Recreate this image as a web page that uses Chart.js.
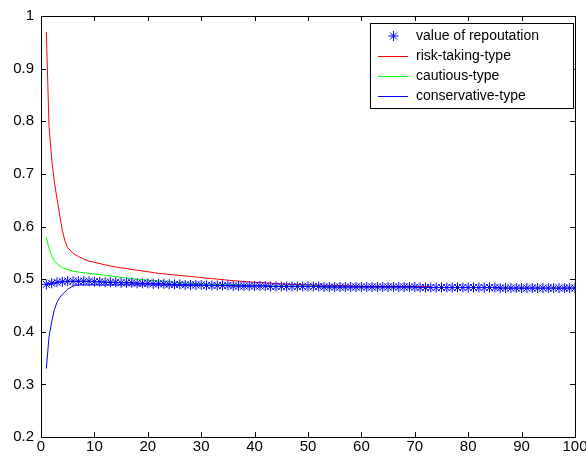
<!DOCTYPE html>
<html>
<head>
<meta charset="utf-8">
<script src="https://cdn.jsdelivr.net/npm/chart.js@4/dist/chart.umd.min.js"></script>
<style>
  html, body { margin: 0; padding: 0; background: #fff; }
  #wrap { width: 586px; height: 456px; }
</style>
</head>
<body>
<div id="wrap"><canvas id="c" width="586" height="456"></canvas></div>
<script>
// value of repoutation, one star per iteration 1..100
var reputation = [
    0.490, 0.492, 0.494, 0.495, 0.496, 0.496, 0.496, 0.496, 0.496, 0.495,
    0.495, 0.494, 0.494, 0.494, 0.493, 0.493, 0.493, 0.492, 0.492, 0.492,
    0.491, 0.491, 0.491, 0.490, 0.490, 0.490, 0.489, 0.489, 0.489, 0.489,
    0.488, 0.488, 0.488, 0.488, 0.488, 0.487, 0.487, 0.487, 0.487, 0.487,
    0.487, 0.487, 0.486, 0.486, 0.486, 0.486, 0.486, 0.486, 0.486, 0.486,
    0.486, 0.486, 0.485, 0.485, 0.485, 0.485, 0.485, 0.485, 0.485, 0.485,
    0.485, 0.485, 0.485, 0.485, 0.485, 0.485, 0.485, 0.485, 0.485, 0.485,
    0.484, 0.484, 0.484, 0.484, 0.484, 0.484, 0.484, 0.484, 0.484, 0.484,
    0.484, 0.484, 0.484, 0.484, 0.484, 0.483, 0.483, 0.483, 0.483, 0.483,
    0.483, 0.483, 0.483, 0.483, 0.483, 0.483, 0.483, 0.483, 0.483, 0.483
];

var riskX = [1, 1.5, 2, 2.5, 3, 3.5, 4, 4.5, 5, 6, 7, 8, 9, 10, 12, 14, 16, 18, 20, 22, 25, 28, 30, 33, 36, 40, 45, 50, 55, 60, 65, 70, 73];
var riskY = [0.970, 0.790, 0.728, 0.685, 0.652, 0.622, 0.592, 0.572, 0.560, 0.549, 0.543, 0.538, 0.534, 0.532, 0.527, 0.523, 0.520, 0.517, 0.514, 0.511, 0.508, 0.505, 0.503, 0.500, 0.497, 0.494, 0.491, 0.489, 0.488, 0.486, 0.486, 0.486, 0.486];

var cautiousX = [1, 1.5, 2, 2.5, 3, 4, 5, 6, 8, 10, 13, 16, 20, 24, 28, 32, 36, 40, 45, 50, 55];
var cautiousY = [0.579, 0.558, 0.545, 0.535, 0.529, 0.522, 0.518, 0.515, 0.512, 0.510, 0.506, 0.502, 0.498, 0.495, 0.492, 0.490, 0.489, 0.488, 0.487, 0.487, 0.486];

var conservX = [1, 1.5, 2, 2.5, 3, 3.5, 4, 5, 6, 7, 10, 20, 30, 40];
var conservY = [0.330, 0.390, 0.419, 0.442, 0.456, 0.465, 0.471, 0.481, 0.487, 0.489, 0.489, 0.489, 0.488, 0.487];

var legendLabels = ["value of repoutation", "risk-taking-type", "cautious-type", "conservative-type"];
var seriesColors = ["#0000ff", "#ff0000", "#00ff00", "#0000ff"];

function pairs(xs, ys) {
    return xs.map(function (x, i) { return { x: x, y: ys[i] }; });
}

// matlab style: box round the axes, ticks pointing inwards, legend inside
var matlabBox = {
    id: "matlabBox",
    afterDraw: function (chart) {
        var ctx = chart.ctx;
        var a = chart.chartArea;
        var xs = chart.scales.x, ys = chart.scales.y;
        ctx.save();
        ctx.setLineDash([]);
        ctx.strokeStyle = "#000";
        ctx.lineWidth = 1;
        ctx.strokeRect(a.left + 0.5, a.top + 0.5, a.right - a.left, a.bottom - a.top);
        ctx.beginPath();
        xs.ticks.forEach(function (t) {
            var px = Math.round(xs.getPixelForValue(t.value)) + 0.5;
            ctx.moveTo(px, a.bottom); ctx.lineTo(px, a.bottom - 5);
            ctx.moveTo(px, a.top); ctx.lineTo(px, a.top + 5);
        });
        ys.ticks.forEach(function (t) {
            var py = Math.round(ys.getPixelForValue(t.value)) + 0.5;
            ctx.moveTo(a.left, py); ctx.lineTo(a.left + 5, py);
            ctx.moveTo(a.right, py); ctx.lineTo(a.right - 5, py);
        });
        ctx.stroke();

        // legend
        var bx = 370.5, by = 23.5, bw = 203, bh = 85;
        ctx.fillStyle = "#fff";
        ctx.fillRect(bx, by, bw, bh);
        ctx.strokeStyle = "#000";
        ctx.strokeRect(bx, by, bw, bh);
        ctx.font = "14px 'Liberation Sans', Arial, sans-serif";
        ctx.textBaseline = "middle";
        legendLabels.forEach(function (label, i) {
            var ry = 36 + i * 20;
            if (i === 0) {
                var cx = 393.5, r = 5;
                ctx.strokeStyle = seriesColors[0];
                ctx.beginPath();
                ctx.moveTo(cx, ry - r); ctx.lineTo(cx, ry + r);
                ctx.moveTo(cx - r, ry); ctx.lineTo(cx + r, ry);
                ctx.moveTo(cx - 3.5, ry - 3.5); ctx.lineTo(cx + 3.5, ry + 3.5);
                ctx.moveTo(cx - 3.5, ry + 3.5); ctx.lineTo(cx + 3.5, ry - 3.5);
                ctx.stroke();
            } else {
                ctx.fillStyle = seriesColors[i];
                ctx.fillRect(378, ry, 30, 1);
            }
            ctx.fillStyle = "#000";
            ctx.fillText(label, 416, ry);
        });
        ctx.restore();
    }
};

document.addEventListener("DOMContentLoaded", function () {
    var canvas = document.getElementById("c");
    var tickFont = { family: "'Liberation Sans', Arial, sans-serif", size: 15 };

    new Chart(canvas, {
        type: "line",
        data: {
            datasets: [
                {
                    label: legendLabels[0],
                    data: reputation.map(function (v, i) { return { x: i + 1, y: v }; }),
                    showLine: false,
                    pointStyle: "star",
                    pointRadius: 5,
                    pointBorderWidth: 1,
                    pointBorderColor: seriesColors[0],
                    pointBackgroundColor: seriesColors[0],
                    order: 0
                },
                {
                    label: legendLabels[1],
                    data: pairs(riskX, riskY),
                    borderColor: seriesColors[1],
                    borderWidth: 1,
                    pointRadius: 0,
                    tension: 0,
                    order: 3
                },
                {
                    label: legendLabels[2],
                    data: pairs(cautiousX, cautiousY),
                    borderColor: seriesColors[2],
                    borderWidth: 1,
                    pointRadius: 0,
                    tension: 0,
                    order: 2
                },
                {
                    label: legendLabels[3],
                    data: pairs(conservX, conservY),
                    borderColor: seriesColors[3],
                    borderWidth: 1,
                    pointRadius: 0,
                    tension: 0,
                    order: 1
                }
            ]
        },
        options: {
            responsive: false,
            animation: false,
            events: [],
            layout: { padding: { top: 16, right: 11, left: 0, bottom: 0 } },
            plugins: {
                legend: { display: false },
                tooltip: { enabled: false }
            },
            scales: {
                x: {
                    type: "linear",
                    min: 0,
                    max: 100,
                    grid: { display: false, drawTicks: false },
                    border: { display: false },
                    ticks: { stepSize: 10, color: "#000", font: tickFont, padding: 1, maxRotation: 0, autoSkip: false },
                    afterFit: function (s) { s.height = 19; s.paddingLeft = 0; s.paddingRight = 0; }
                },
                y: {
                    min: 0.2,
                    max: 1,
                    grid: { display: false, drawTicks: false },
                    border: { display: false },
                    ticks: {
                        stepSize: 0.1, color: "#000", font: tickFont, padding: 7, autoSkip: false,
                        callback: function (v) { return String(Math.round(v * 10) / 10); }
                    },
                    afterFit: function (s) { s.width = 41; s.paddingTop = 0; s.paddingBottom = 0; }
                }
            }
        },
        plugins: [matlabBox]
    });
});
</script>
</body>
</html>
